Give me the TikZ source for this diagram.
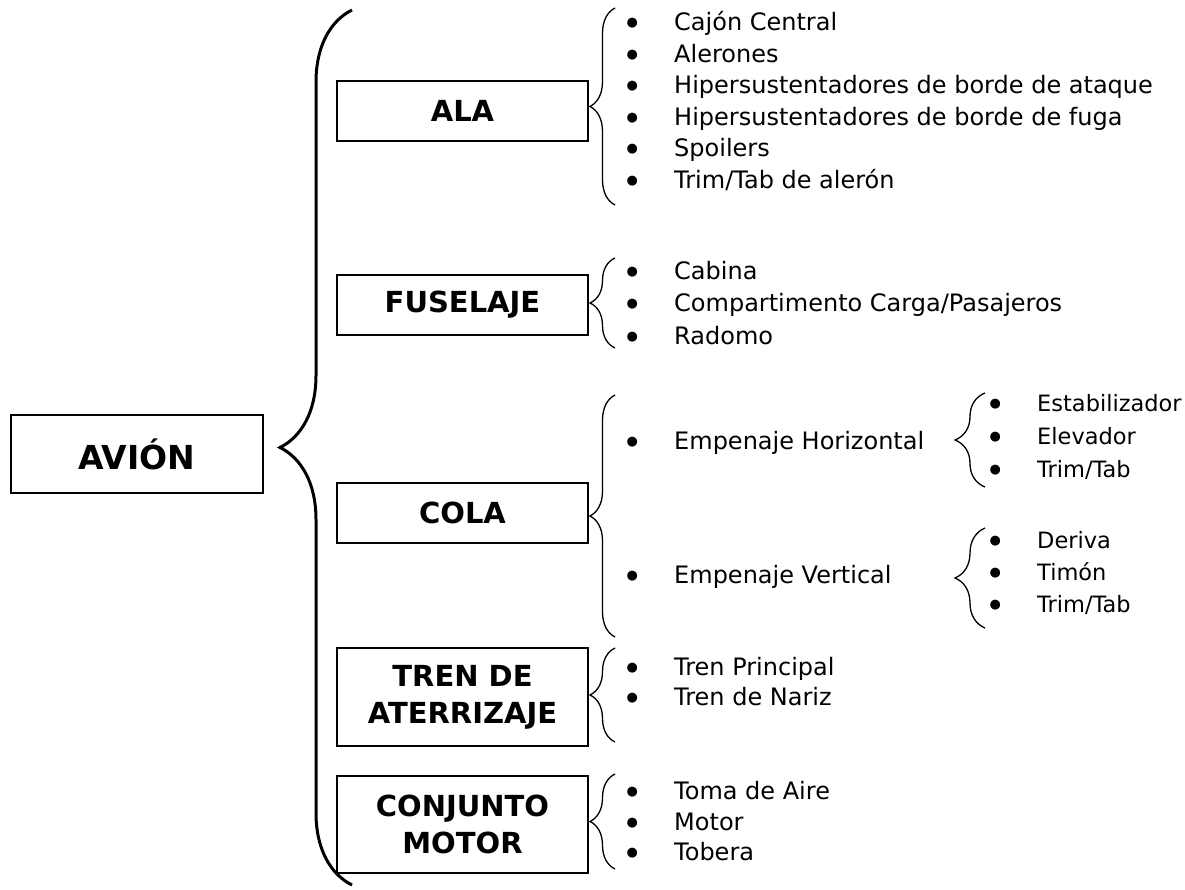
\documentclass[tikz,border=0pt]{standalone}
\usepackage{fontspec}
\setmainfont{DejaVu Sans}
\usetikzlibrary{decorations.pathreplacing}
\newcommand{\itm}{\makebox[16pt]{\raisebox{4pt}{\fontsize{13}{13}\selectfont ●}}\hspace{34pt}}

\begin{document}
\begin{tikzpicture}[x=1pt, y=-1pt,
  part/.style={draw, line width=1.4pt, minimum width=251pt, inner sep=0pt, align=center, font=\fontsize{29}{37}\selectfont\bfseries},
  lst/.style={anchor=west, inner sep=0pt, align=left, font=\fontsize{24}{#1}\selectfont},
  lst/.default=31.6,
  brc/.style={decorate, decoration={brace, amplitude=#1}, line width=1.3pt},
  brc/.default=25pt]
  \useasboundingbox (0,0) rectangle (1185,890);

  \node[part, minimum width=252pt, minimum height=78pt, font=\fontsize{33}{38}\selectfont\bfseries] (avion) at (137,454) {AVIÓN};
  \node[part, minimum height=60pt] (ala) at (462.5,111) {ALA};
  \node[part, minimum height=60pt] (fus) at (462.5,305) {FUSELAJE};
  \node[part, minimum height=60pt] (cola) at (462.5,513) {COLA};
  \node[part, minimum height=98pt] (tren) at (462.5,697) {TREN DE\\ATERRIZAJE};
  \node[part, minimum height=97pt] (motor) at (462.5,824.5) {CONJUNTO\\MOTOR};

  \node[lst] (ala-l) at (624,101) {\itm Cajón Central\\\itm Alerones\\\itm Hipersustentadores de borde de ataque\\\itm Hipersustentadores de borde de fuga\\\itm Spoilers\\\itm Trim/Tab de alerón};
  \node[lst=32.5] (fus-l) at (624,303) {\itm Cabina\\\itm Compartimento Carga/Pasajeros\\\itm Radomo};
  \node[lst] (cola-h) at (624,443) {\itm Empenaje Horizontal};
  \node[lst] (cola-v) at (624,577) {\itm Empenaje Vertical};
  \node[lst=33, font=\fontsize{22.5}{33}\selectfont] (hor-l) at (987,437) {\itm Estabilizador\\\itm Elevador\\\itm Trim/Tab};
  \node[lst=32, font=\fontsize{22.5}{32}\selectfont] (ver-l) at (987,573) {\itm Deriva\\\itm Timón\\\itm Trim/Tab};
  \node[lst=30] (tren-l) at (624,682) {\itm Tren Principal\\\itm Tren de Nariz};
  \node[lst=30.5] (motor-l) at (624,821.5) {\itm Toma de Aire\\\itm Motor\\\itm Tobera};

  \coordinate (big-t) at (352,10);    \coordinate (big-b) at (352,885);
  \coordinate (ala-t) at (615,8);     \coordinate (ala-b) at (615,205);
  \coordinate (fus-t) at (615,258);   \coordinate (fus-b) at (615,348);
  \coordinate (cola-t) at (615,395);  \coordinate (cola-b) at (615,637);
  \coordinate (hor-t) at (985,393);   \coordinate (hor-b) at (985,487);
  \coordinate (ver-t) at (985,528);   \coordinate (ver-b) at (985,628);
  \coordinate (tren-t) at (615,648);  \coordinate (tren-b) at (615,742);
  \coordinate (motor-t) at (615,774); \coordinate (motor-b) at (615,869);

  \draw[brc=72pt, line width=3pt] (big-b) -- (big-t);
  \draw[brc] (ala-b) -- (ala-t);
  \draw[brc] (fus-b) -- (fus-t);
  \draw[brc] (cola-b) -- (cola-t);
  \draw[brc=30pt] (hor-b) -- (hor-t);
  \draw[brc=30pt] (ver-b) -- (ver-t);
  \draw[brc] (tren-b) -- (tren-t);
  \draw[brc] (motor-b) -- (motor-t);
\end{tikzpicture}
\end{document}
